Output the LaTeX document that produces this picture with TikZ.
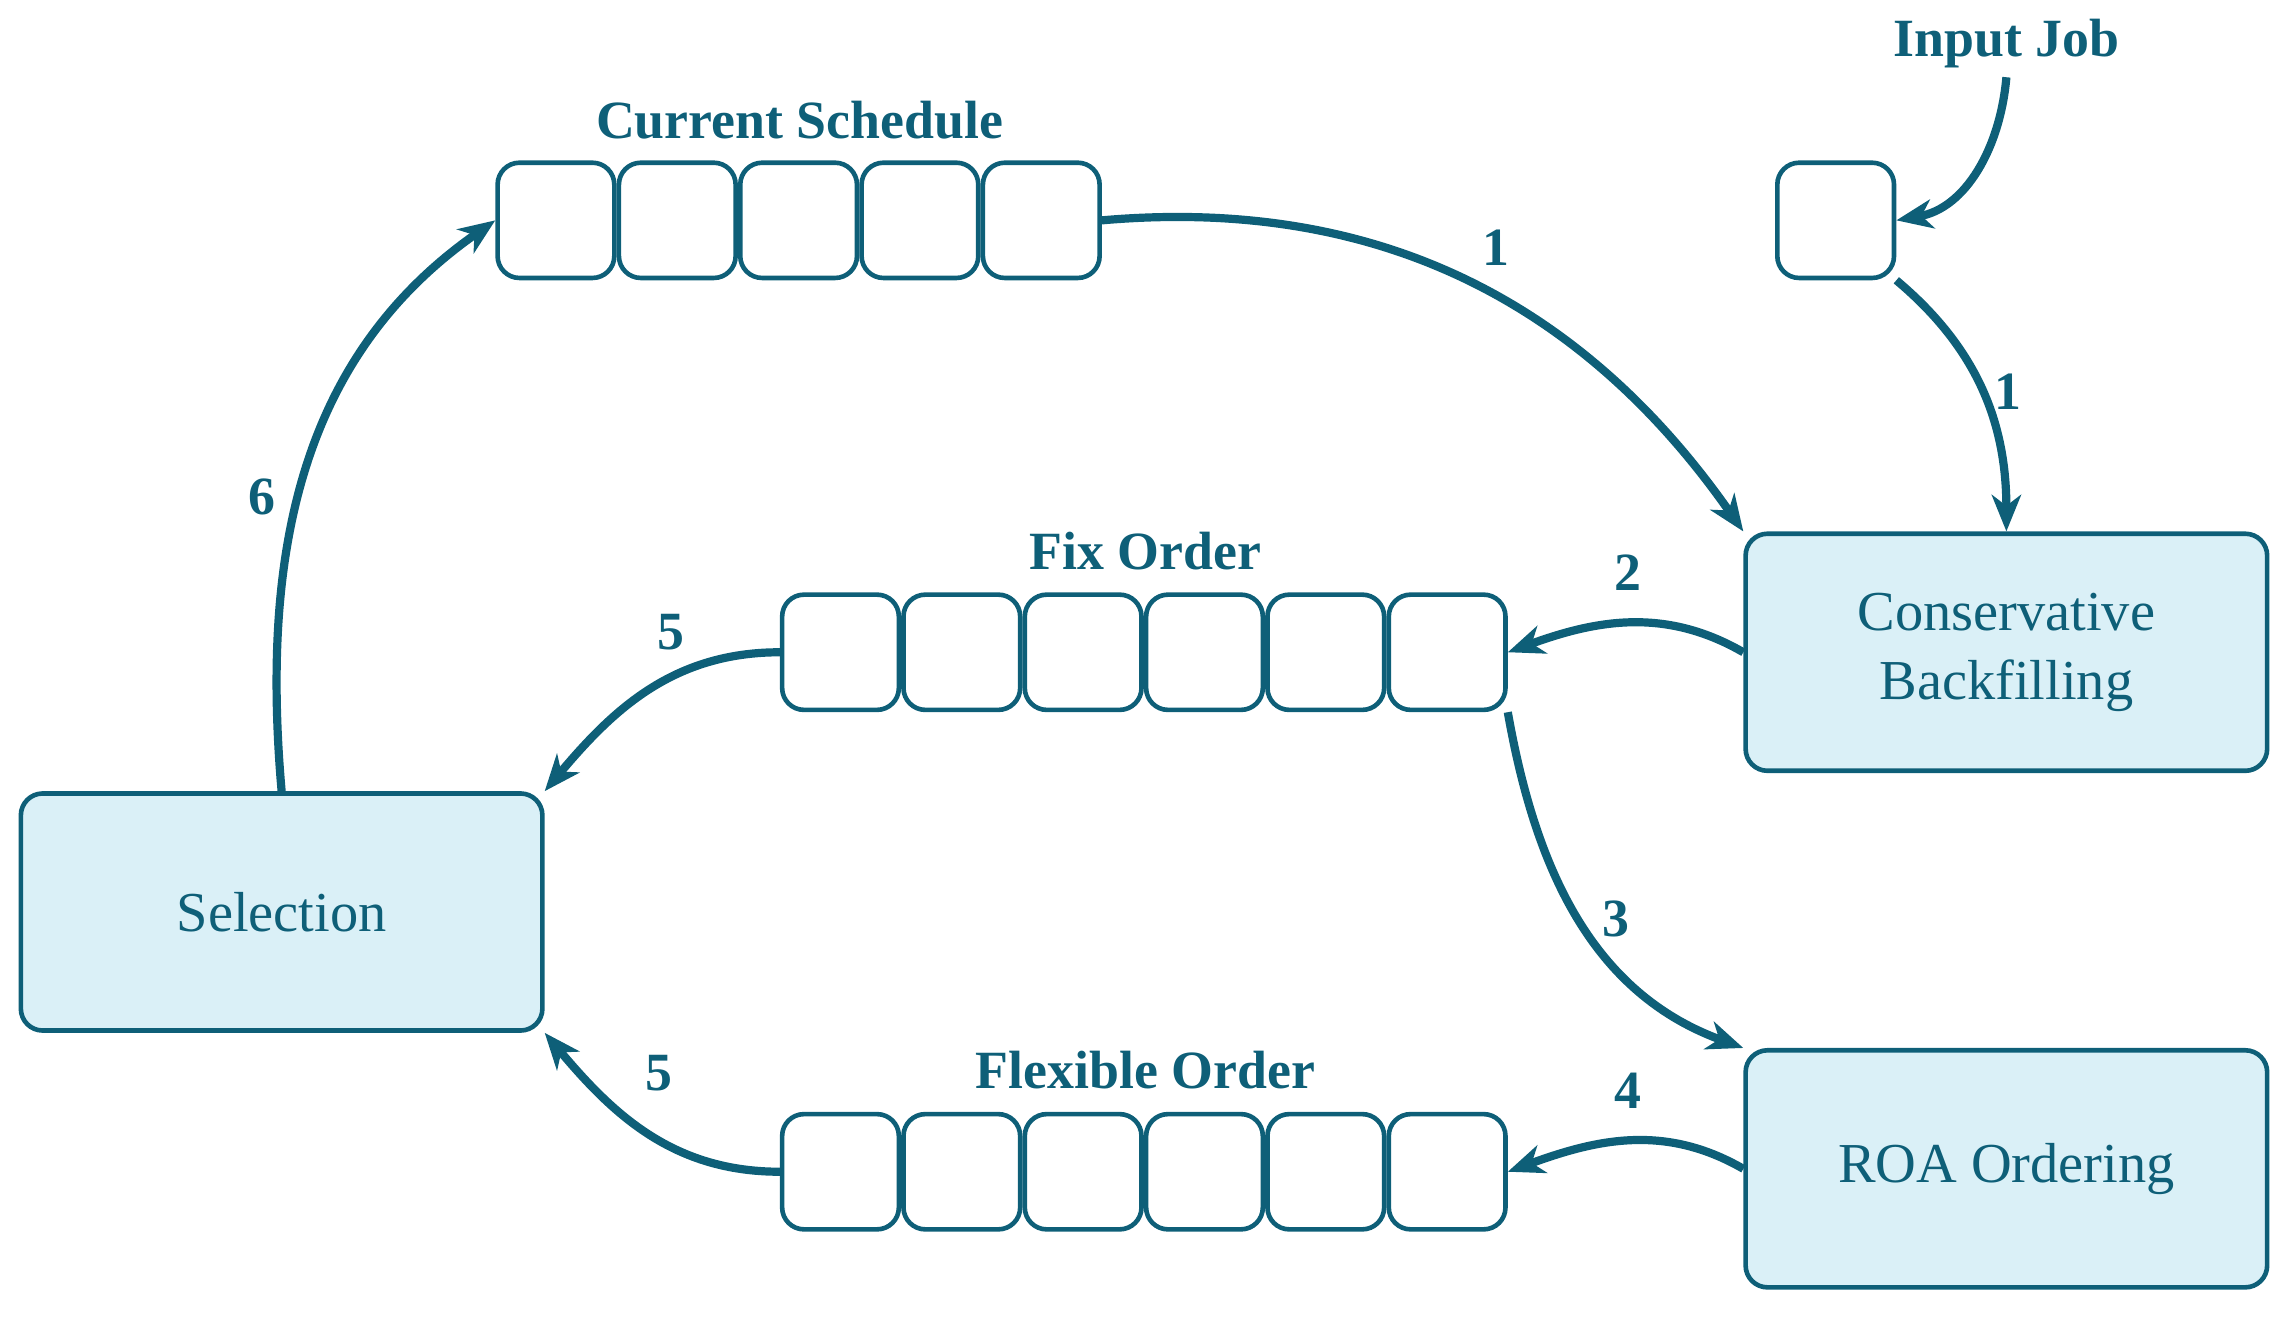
\documentclass[tikz,border=0pt]{standalone}
\usepackage{fontspec}
\setmainfont{Liberation Serif}
\usetikzlibrary{positioning,arrows.meta}
\definecolor{teal}{HTML}{0E5F78}
\definecolor{lightteal}{HTML}{DAF0F7}
\begin{document}
\begin{tikzpicture}[x=0.02cm,y=-0.02cm,>={Stealth[length=5mm,width=4mm,inset=1.5mm]},
	cell/.style={draw=teal,line width=1.8pt,rounded corners=3mm,minimum width=1.6cm,minimum height=1.58cm,inner sep=0pt},
	block/.style={draw=teal,fill=lightteal,line width=1.8pt,rounded corners=3mm,minimum width=7.15cm,minimum height=3.25cm,align=center,text=teal,font=\fontsize{22}{27}\selectfont},
	lbl/.style={text=teal,font=\fontsize{21}{25}\selectfont\bfseries},
	flow/.style={draw=teal,line width=3.2pt,->}]
	\useasboundingbox (0,0) rectangle (1568,903);

	% blokkok
	\node[block] (cb) at (1375,447) {Conservative\\Backfilling};
	\node[block] (sel) at (193,625) {Selection};
	\node[block] (roa) at (1375,801) {ROA Ordering};

	% sorok
	\node[cell] (cs1) at (381,151) {};
	\foreach \i [count=\j from 2] in {1,...,4}
		\node[cell,right=0pt of cs\i] (cs\j) {};
	\node[cell] (fo1) at (576,447) {};
	\node[cell] (fl1) at (576,803) {};
	\foreach \i [count=\j from 2] in {1,...,5}{
		\node[cell,right=0pt of fo\i] (fo\j) {};
		\node[cell,right=0pt of fl\i] (fl\j) {};
	}
	\node[cell] (in) at (1258,151) {};

	% feliratok
	\node[lbl] (tcs) at (548,82) {Current Schedule};
	\node[lbl] (tin) at (1375,30) {Input Job};
	\node[lbl] (tfo) at (785,378) {Fix Order};
	\node[lbl] (tfl) at (785,733) {Flexible Order};

	% nyilak
	\draw[flow] (cs5.east) to[out=5,in=125] node[lbl,pos=0.5,above right=2pt]{1} (cb.north west);
	\draw[flow] (tin.south) to[out=-95,in=10] (in.east);
	\draw[flow] (in.south east) to[out=-40,in=90] node[lbl,pos=0.5,right]{1} (cb.north);
	\draw[flow] (cb.west) to[out=150,in=20] node[lbl,pos=0.5,above=8pt]{2} (fo6.east);
	\draw[flow] (fo6.south east) to[out=-80,in=160] node[lbl,pos=0.5,right=4pt]{3} (roa.north west);
	\draw[flow] (roa.west) to[out=150,in=20] node[lbl,pos=0.5,above=8pt]{4} (fl6.east);
	\draw[flow] (fo1.west) to[out=180,in=50] node[lbl,pos=0.4,above=6pt]{5} (sel.north east);
	\draw[flow] (fl1.west) to[out=180,in=-50] node[lbl,pos=0.45,above=14pt]{5} (sel.south east);
	\draw[flow] (sel.north) to[out=95,in=-145] node[lbl,pos=0.45,left=4pt]{6} (cs1.west);
\end{tikzpicture}
\end{document}
